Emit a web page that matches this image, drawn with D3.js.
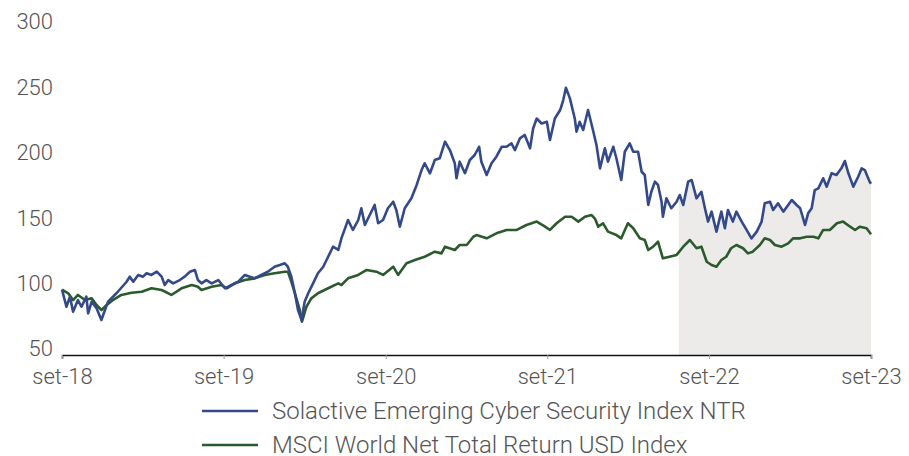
<!DOCTYPE html>
<html>
<head>
<meta charset="utf-8">
<script src="https://cdn.jsdelivr.net/npm/d3@7"></script>
<style>
  html, body { margin: 0; padding: 0; background: #ffffff; }
  svg { display: block; }
  text { font-family: Roboto, "Noto Sans", sans-serif; font-weight: 300; fill: #555555; }
</style>
</head>
<body>
<svg id="chart" width="909" height="456"></svg>
<script>
// Series labels
const seriesNames = [
  "Solactive Emerging Cyber Security Index NTR",
  "MSCI World Net Total Return USD Index"
];
const seriesColors = ["#34498a", "#2b5a2d"];

// Solactive Emerging Cyber Security Index NTR (rebased to 100)
const cyberDates = [
  "2018-09-28","2018-10-08","2018-10-16","2018-10-23","2018-11-03","2018-11-11","2018-11-22","2018-11-26",
  "2018-12-04","2018-12-15","2018-12-26","2019-01-03","2019-01-10","2019-01-29","2019-02-21","2019-02-28",
  "2019-03-08","2019-03-19","2019-03-30","2019-04-07","2019-04-18","2019-04-30","2019-05-11","2019-05-18",
  "2019-05-26","2019-06-06","2019-06-21","2019-07-02","2019-07-14","2019-07-25","2019-08-01","2019-08-09",
  "2019-08-20","2019-09-01","2019-09-16","2019-10-01","2019-10-16","2019-10-31","2019-11-15","2019-11-26",
  "2019-12-07","2019-12-22","2020-01-06","2020-01-21","2020-02-02","2020-02-13","2020-02-20","2020-02-28",
  "2020-03-07","2020-03-14","2020-03-22","2020-03-29","2020-04-06","2020-04-17","2020-04-28","2020-05-10",
  "2020-05-21","2020-06-01","2020-06-13","2020-06-20","2020-07-05","2020-07-16","2020-07-28","2020-08-04",
  "2020-08-12","2020-08-23","2020-09-03","2020-09-11","2020-09-22","2020-10-03","2020-10-15","2020-10-22",
  "2020-10-30","2020-11-10","2020-11-25","2020-12-07","2020-12-18","2020-12-25","2021-01-06","2021-01-17",
  "2021-01-28","2021-02-09","2021-02-20","2021-03-03","2021-03-07","2021-03-14","2021-03-26","2021-04-06",
  "2021-04-17","2021-04-27","2021-05-02","2021-05-14","2021-05-25","2021-06-05","2021-06-17","2021-06-28",
  "2021-07-09","2021-07-17","2021-07-28","2021-08-08","2021-08-20","2021-08-27","2021-09-04","2021-09-15",
  "2021-09-27","2021-10-04","2021-10-15","2021-10-27","2021-11-03","2021-11-09","2021-11-18","2021-11-29",
  "2021-12-03","2021-12-10","2021-12-18","2021-12-29","2022-01-10","2022-01-17","2022-01-25","2022-02-05",
  "2022-02-12","2022-02-24","2022-03-03","2022-03-14","2022-03-22","2022-04-02","2022-04-10","2022-04-21",
  "2022-04-29","2022-05-06","2022-05-14","2022-05-21","2022-05-29","2022-06-05","2022-06-13","2022-06-16",
  "2022-06-24","2022-07-05","2022-07-17","2022-07-24","2022-08-01","2022-08-12","2022-08-20","2022-08-31",
  "2022-09-11","2022-09-19","2022-09-26","2022-10-04","2022-10-15","2022-10-26","2022-11-03","2022-11-10",
  "2022-11-21","2022-11-29","2022-12-11","2022-12-22","2023-01-02","2023-01-14","2023-01-25","2023-02-01",
  "2023-02-13","2023-02-20","2023-03-03","2023-03-15","2023-03-26","2023-04-03","2023-04-14","2023-04-22",
  "2023-05-03","2023-05-10","2023-05-18","2023-05-25","2023-06-02","2023-06-13","2023-06-21","2023-07-02",
  "2023-07-13","2023-07-24","2023-08-01","2023-08-09","2023-08-20","2023-08-31","2023-09-08","2023-09-15",
  "2023-09-26","2023-09-29"
];
const cyberValues = [
  100, 86.9, 94.6, 83.1, 92, 86.9, 94.6, 81.9,
  90.8, 85.7, 76.8, 84.4, 90.8, 97.2, 106, 109.9,
  106, 111.2, 109.9, 112.5, 111.2, 113.7, 109.9, 103.5,
  107.3, 104.8, 107.3, 109.9, 113.7, 115, 107.3, 104.8,
  107.3, 104.8, 107.3, 101, 103.5, 106, 111.2, 109.9,
  108.6, 111.2, 113.7, 117.5, 118.8, 120.1, 117.5, 109.9,
  97.2, 84.4, 76.8, 90.8, 97.2, 104.8, 112.5, 117.5,
  125.1, 132.8, 130.3, 139.2, 153.2, 145.6, 153.2, 162.2,
  149.4, 157, 164.7, 150.7, 153.2, 162.2, 167.2, 160.9,
  148.1, 162.2, 169.8, 180, 191.4, 196.6, 188.9, 199.1,
  200.4, 213.1, 206.7, 196.6, 185.1, 197.8, 189, 199.1,
  202.9, 209.2, 197.8, 187.6, 196.6, 201.6, 209.2, 209.2,
  211.8, 206.7, 215.6, 218.2, 208, 223.2, 230.8, 227,
  228.3, 214.4, 230.8, 237.3, 244.9, 254.3, 246.2, 230.8,
  220.7, 228.3, 222, 237.3, 220.7, 210.5, 192.7, 208,
  197.8, 209.2, 200.4, 183.8, 205.4, 211.8, 205.4, 205.4,
  190.1, 187.6, 164.7, 174.8, 182.5, 180, 167.2, 155.7,
  169.8, 162.2, 167.2, 172.3, 164.7, 182.5, 183.8, 169.8,
  174.8, 162.2, 152, 159.6, 144.3, 159.6, 146.9, 160.9,
  152, 159.6, 152, 145.6, 139.2, 144.3, 152, 166,
  167.2, 160.9, 166, 159.6, 164.7, 168.5, 164.7, 162.2,
  149.4, 158.3, 162.2, 176.1, 177.4, 185.1, 178.7, 188.9,
  187.6, 192.7, 198.3, 188.9, 178.7, 186.3, 192.7, 191.4,
  182.5, 181
];

// MSCI World Net Total Return USD Index (rebased to 100)
const msciDates = [
  "2018-09-28","2018-10-12","2018-10-23","2018-11-03","2018-11-19","2018-12-04","2018-12-15","2018-12-26",
  "2019-01-07","2019-01-21","2019-02-09","2019-03-04","2019-03-27","2019-04-18","2019-05-11","2019-06-02",
  "2019-06-25","2019-07-18","2019-08-01","2019-08-09","2019-09-01","2019-09-23","2019-10-05","2019-10-23",
  "2019-11-15","2019-12-07","2019-12-30","2020-01-21","2020-02-13","2020-02-20","2020-02-28","2020-03-07",
  "2020-03-18","2020-03-23","2020-04-02","2020-04-13","2020-04-28","2020-05-21","2020-06-13","2020-06-20",
  "2020-07-05","2020-07-28","2020-08-16","2020-09-07","2020-09-22","2020-10-15","2020-10-26","2020-11-14",
  "2020-12-03","2020-12-25","2021-01-17","2021-02-01","2021-02-09","2021-03-03","2021-03-14","2021-03-30",
  "2021-04-14","2021-04-21","2021-05-14","2021-06-05","2021-06-28","2021-07-21","2021-08-12","2021-09-04",
  "2021-09-23","2021-10-04","2021-10-19","2021-11-07","2021-11-22","2021-12-07","2021-12-22","2022-01-06",
  "2022-01-14","2022-01-21","2022-02-01","2022-02-12","2022-03-03","2022-03-14","2022-03-29","2022-04-10",
  "2022-04-25","2022-05-06","2022-05-14","2022-05-25","2022-06-05","2022-06-16","2022-07-01","2022-07-17",
  "2022-08-01","2022-08-16","2022-08-31","2022-09-11","2022-09-23","2022-10-04","2022-10-15","2022-10-26",
  "2022-11-06","2022-11-17","2022-11-29","2022-12-14","2022-12-25","2023-01-05","2023-01-21","2023-02-01",
  "2023-02-13","2023-02-24","2023-03-11","2023-03-26","2023-04-06","2023-04-22","2023-05-07","2023-05-22",
  "2023-06-02","2023-06-13","2023-06-28","2023-07-14","2023-07-28","2023-08-13","2023-08-24","2023-09-04",
  "2023-09-19","2023-09-29"
];
const msciValues = [
  100, 97.2, 92, 95.9, 92, 93.3, 88.2, 84.4,
  88.2, 92, 95.9, 97.6, 98.4, 101, 99.7, 95.9,
  101, 103.5, 102.2, 99.7, 102.2, 103.5, 101, 104.8,
  107.3, 108.6, 111.2, 112.5, 113.7, 113.7, 106, 97.2,
  84.4, 75.5, 86.9, 93.3, 97.2, 101, 104.8, 103.5,
  108.6, 111.2, 115, 113.7, 111.2, 117.5, 111.2, 120.1,
  122.6, 125.1, 129, 127.7, 132.8, 130.3, 134.1, 134.1,
  140.4, 141.7, 139.2, 143, 145.6, 145.6, 149.4, 152,
  148.1, 145.6, 150.7, 155.7, 155.7, 152, 155.7, 157,
  154, 148.1, 150.7, 144.3, 141.7, 139.2, 150.7, 146.9,
  139.2, 137.9, 130.3, 132.8, 136.6, 123.9, 125.1, 126.5,
  132.8, 137.9, 131.6, 132.8, 121.3, 118.8, 117.5, 122.6,
  125.1, 131.6, 134.1, 131.6, 127.7, 129, 134.1, 139.2,
  137.9, 134.1, 132.8, 135.4, 139.2, 139.2, 140.4, 140.4,
  139.2, 145.6, 145.6, 150.7, 152, 148.1, 145.6, 148.1,
  146.9, 142.3
];

// Axis ticks and the start of the shaded period
const yTicks = [50, 100, 150, 200, 250, 300];
const xTickDates = ["2018-09-28", "2019-09-28", "2020-09-28", "2021-09-28", "2022-09-28", "2023-09-29"];
const xTickLabels = ["set-18", "set-19", "set-20", "set-21", "set-22", "set-23"];
const shadeStart = "2022-07-22";

const parse = d3.timeParse("%Y-%m-%d");
const cyber = cyberDates.map((d, i) => ({ date: parse(d), value: cyberValues[i] }));
const msci = msciDates.map((d, i) => ({ date: parse(d), value: msciValues[i] }));

const svg = d3.select("#chart");
const margin = { left: 62, right: 38, top: 28, bottom: 101 };
const W = 909, H = 456;

const x = d3.scaleTime()
  .domain([parse("2018-09-28"), parse("2023-09-29")])
  .range([margin.left, W - margin.right]);
const y = d3.scaleLinear()
  .domain([50, 300])
  .range([H - margin.bottom, margin.top]);

// Shaded area under the cyber security line for the recent period
svg.append("defs").append("clipPath").attr("id", "shade-clip")
  .append("rect")
  .attr("x", x(parse(shadeStart)))
  .attr("y", y(300))
  .attr("width", x.range()[1] - x(parse(shadeStart)))
  .attr("height", y(50) - y(300));

svg.append("path")
  .datum(cyber)
  .attr("clip-path", "url(#shade-clip)")
  .attr("fill", "#ecebea")
  .attr("d", d3.area().x(d => x(d.date)).y0(y(50)).y1(d => y(d.value)));

// Y axis labels only
const yAxis = svg.append("g")
  .attr("transform", `translate(${margin.left - 9},0)`)
  .call(d3.axisLeft(y).tickValues(yTicks).tickSize(0).tickPadding(0));
yAxis.select(".domain").remove();
yAxis.selectAll("text")
  .attr("dy", "0.04em")
  .style("font-size", "22px")
  .style("font-family", "Roboto, sans-serif")
  .attr("fill", "#555555");

// X axis
const xAxis = svg.append("g")
  .attr("transform", `translate(0,${y(50)})`)
  .call(d3.axisBottom(x)
    .tickValues(xTickDates.map(parse))
    .tickFormat((d, i) => xTickLabels[i])
    .tickSize(4)
    .tickPadding(9));
xAxis.select(".domain").attr("stroke", "#111111").attr("stroke-width", 1.5);
xAxis.selectAll(".tick line").attr("stroke", "#999999");
xAxis.selectAll("text")
  .style("font-size", "22px")
  .style("font-family", "Roboto, sans-serif")
  .attr("fill", "#555555");

// Lines
const line = d3.line().x(d => x(d.date)).y(d => y(d.value));
svg.append("path").datum(msci)
  .attr("fill", "none").attr("stroke", seriesColors[1])
  .attr("stroke-width", 2.6).attr("stroke-linejoin", "round")
  .attr("d", line);
svg.append("path").datum(cyber)
  .attr("fill", "none").attr("stroke", seriesColors[0])
  .attr("stroke-width", 2.6).attr("stroke-linejoin", "round")
  .attr("d", line);

// Legend
const legend = svg.append("g").attr("transform", "translate(202,411)");
seriesNames.forEach((name, i) => {
  const g = legend.append("g").attr("transform", `translate(0,${i * 34})`);
  g.append("line").attr("x1", 0).attr("x2", 56).attr("y1", 0).attr("y2", 0)
    .attr("stroke", seriesColors[i]).attr("stroke-width", 2.5);
  g.append("text").attr("x", 70).attr("y", 0).attr("dy", "0.33em")
    .style("font-size", "24px").text(name);
});
</script>
</body>
</html>
